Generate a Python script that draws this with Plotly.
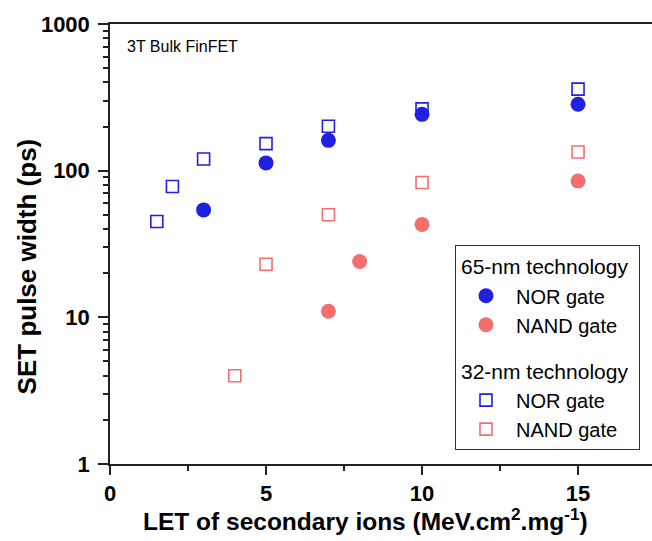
import plotly.graph_objects as go

# 65-nm technology (filled circles)
nor65_x = [3, 5, 7, 10, 15]
nor65_y = [54, 113, 161, 242, 284]
nand65_x = [7, 8, 10, 15]
nand65_y = [11, 24, 43, 85]

# 32-nm technology (open squares)
nor32_x = [1.5, 2, 3, 5, 7, 10, 15]
nor32_y = [45, 78, 120, 153, 201, 264, 360]
nand32_x = [4, 5, 7, 10, 15]
nand32_y = [4, 23, 50, 83, 134]

x_ticks = [0, 5, 10, 15]
y_ticks = [1, 10, 100, 1000]

BLUE = "#2020E0"
RED = "#F56E6E"
FONT = "Liberation Sans, Arial, sans-serif"

fig = go.Figure()
fig.add_trace(go.Scatter(
    x=nor65_x, y=nor65_y, mode="markers", name="NOR gate",
    legendgroup="65", legendgrouptitle=dict(text="65-nm technology", font=dict(size=21, color="black")),
    marker=dict(symbol="circle", size=15, color=BLUE)))
fig.add_trace(go.Scatter(
    x=nand65_x, y=nand65_y, mode="markers", name="NAND gate",
    legendgroup="65",
    marker=dict(symbol="circle", size=15, color=RED)))
fig.add_trace(go.Scatter(
    x=nor32_x, y=nor32_y, mode="markers", name="NOR gate",
    legendgroup="32", legendgrouptitle=dict(text="32-nm technology", font=dict(size=21, color="black")),
    marker=dict(symbol="square-open", size=12, color=BLUE, line=dict(width=1.6, color=BLUE))))
fig.add_trace(go.Scatter(
    x=nand32_x, y=nand32_y, mode="markers", name="NAND gate",
    legendgroup="32",
    marker=dict(symbol="square-open", size=12, color=RED, line=dict(width=1.6, color=RED))))

fig.update_layout(
    width=652, height=541,
    margin=dict(l=110, r=0, t=24, b=77, autoexpand=False),
    paper_bgcolor="white", plot_bgcolor="white",
    font=dict(family=FONT, color="black"),
    showlegend=True,
    legend=dict(
        x=0.6365, y=0.4977, xanchor="left", yanchor="top",
        bordercolor="#333333", borderwidth=1, bgcolor="white",
        font=dict(size=20, color="black"),
        traceorder="grouped", tracegroupgap=16, itemwidth=50,
    ),
    annotations=[
        dict(text="3T Bulk FinFET", xref="paper", yref="paper",
             x=0.027, y=0.95, xanchor="left", yanchor="middle",
             showarrow=False, font=dict(size=16, color="black")),
        dict(text="<b>SET pulse width (ps)</b>", xref="paper", yref="paper",
             x=-0.154, y=0.448, xanchor="center", yanchor="middle", textangle=-90,
             showarrow=False, font=dict(size=26, color="black")),
        dict(text="<b>LET of secondary ions (MeV.cm<sup>2</sup>.mg<sup>-1</sup>)</b>",
             xref="paper", yref="paper",
             x=0.471, y=-0.127, xanchor="center", yanchor="middle",
             showarrow=False, font=dict(size=24.5, color="black")),
    ],
)

fig.update_xaxes(
    range=[0, 17.37], tickvals=x_ticks, ticktext=[str(v) for v in x_ticks],
    showgrid=False, zeroline=False, automargin=False,
    showline=True, linecolor="#222222", linewidth=1.5, mirror=True,
    ticks="outside", ticklen=9, tickwidth=1.5, tickcolor="#222222",
    minor=dict(dtick=2.5, ticks="outside", ticklen=5, tickwidth=1.5, tickcolor="#222222"),
    tickfont=dict(size=22, family=FONT, color="black", weight="bold"),
)
fig.update_yaxes(
    type="log", range=[0, 3], tickvals=y_ticks, ticktext=[str(v) for v in y_ticks],
    showgrid=False, zeroline=False, automargin=False,
    showline=True, linecolor="#222222", linewidth=1.5,
    ticks="outside", ticklen=10, tickwidth=1.5, tickcolor="#222222",
    ticklabelstandoff=4,
    minor=dict(tickvals=[m * d for d in [1, 10, 100] for m in range(2, 10)],
               ticks="outside", ticklen=5, tickwidth=1.5, tickcolor="#222222"),
    tickfont=dict(size=22, family=FONT, color="black", weight="bold"),
)

fig.write_html("out.html", config={"displayModeBar": False},
               post_script="document.body.style.margin='0';")
